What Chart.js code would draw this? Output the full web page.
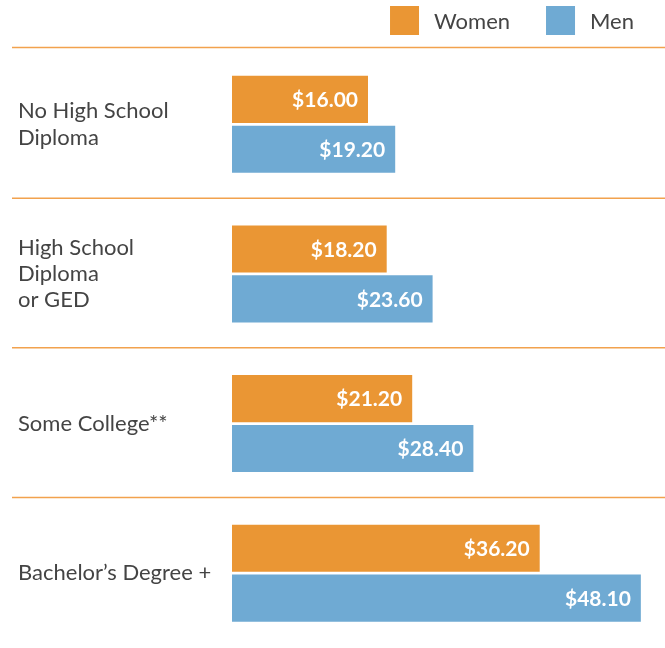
<!DOCTYPE html>
<html>
<head>
<meta charset="utf-8">
<script src="https://cdn.jsdelivr.net/npm/chart.js@4.4.1/dist/chart.umd.min.js"></script>
<style>
  html, body { margin: 0; padding: 0; background: #ffffff; }
  #wrap { width: 665px; height: 648px; position: relative; }
</style>
</head>
<body>
<div id="wrap"><canvas id="c" width="665" height="648"></canvas></div>
<script>
const categories = [
  ["No High School", "Diploma"],
  ["High School", "Diploma", "or GED"],
  "Some College**",
  "Bachelor\u2019s Degree +"
];
const seriesNames = ["Women", "Men"];
const womenWages = [16.00, 18.20, 21.20, 36.20];
const menWages = [19.20, 23.60, 28.40, 48.10];
const seriesColors = ["#EA9634", "#6FAAD3"];

const FONT = "Lato, 'Source Sans Pro', 'Noto Sans', sans-serif";

const separatorPlugin = {
  id: 'separators',
  beforeDatasetsDraw(chart) {
    const ctx = chart.ctx;
    const y = chart.scales.y;
    const area = chart.chartArea;
    const ys = [area.top - 2];
    for (let i = 1; i < categories.length; i++) {
      ys.push((y.getPixelForValue(i - 1) + y.getPixelForValue(i)) / 2 - 1);
    }
    ctx.save();
    ctx.strokeStyle = "#F2A24E";
    ctx.lineWidth = 1.5;
    ys.forEach(v => {
      ctx.beginPath();
      ctx.moveTo(12, v);
      ctx.lineTo(665, v);
      ctx.stroke();
    });
    ctx.restore();
  }
};

const valueLabelPlugin = {
  id: 'valueLabels',
  afterDatasetsDraw(chart) {
    const ctx = chart.ctx;
    ctx.save();
    ctx.font = "bold 21px " + FONT;
    ctx.fillStyle = "#ffffff";
    ctx.textAlign = "right";
    ctx.textBaseline = "middle";
    chart.data.datasets.forEach((ds, di) => {
      const meta = chart.getDatasetMeta(di);
      meta.data.forEach((bar, i) => {
        ctx.fillText("$" + ds.data[i].toFixed(2), bar.x - 10, bar.y + 1);
      });
    });
    ctx.restore();
  }
};

const legendPlugin = {
  id: 'customLegend',
  afterDraw(chart) {
    const ctx = chart.ctx;
    ctx.save();
    ctx.font = "22px " + FONT;
    const box = 29, gapText = 15, gapItem = 36;
    const widths = seriesNames.map(n => ctx.measureText(n).width);
    let total = 0;
    widths.forEach((w, i) => { total += box + gapText + w + (i < widths.length - 1 ? gapItem : 0); });
    let x = 634 - total;
    const top = 6;
    ctx.textBaseline = "middle";
    ctx.textAlign = "left";
    seriesNames.forEach((n, i) => {
      ctx.fillStyle = seriesColors[i];
      ctx.fillRect(x, top, box, box);
      ctx.fillStyle = "#444444";
      ctx.fillText(n, x + box + gapText, top + box / 2 + 1);
      x += box + gapText + widths[i] + gapItem;
    });
    ctx.restore();
  }
};

new Chart(document.getElementById('c'), {
  type: 'bar',
  data: {
    labels: categories,
    datasets: [
      { label: seriesNames[0], data: womenWages, backgroundColor: seriesColors[0], borderWidth: 0 },
      { label: seriesNames[1], data: menWages, backgroundColor: seriesColors[1], borderWidth: 0 }
    ]
  },
  options: {
    indexAxis: 'y',
    responsive: false,
    animation: false,
    devicePixelRatio: 1,
    categoryPercentage: 0.667,
    barPercentage: 0.945,
    layout: { padding: { left: 18, right: 8, top: 49.5, bottom: -1.5 } },
    plugins: {
      legend: { display: false },
      tooltip: { enabled: false }
    },
    scales: {
      x: {
        display: false,
        min: 0,
        max: 50,
        grid: { display: false }
      },
      y: {
        grid: { display: false, drawTicks: false },
        border: { display: false },
        ticks: {
          crossAlign: 'far',
          color: '#444444',
          padding: 0,
          font: { family: FONT, size: 22, lineHeight: 1.2 }
        },
        afterFit(scale) {
          scale.width = 214;
          scale.paddingTop = 0;
          scale.paddingBottom = 0;
        }
      }
    }
  },
  plugins: [separatorPlugin, valueLabelPlugin, legendPlugin]
});
</script>
</body>
</html>
